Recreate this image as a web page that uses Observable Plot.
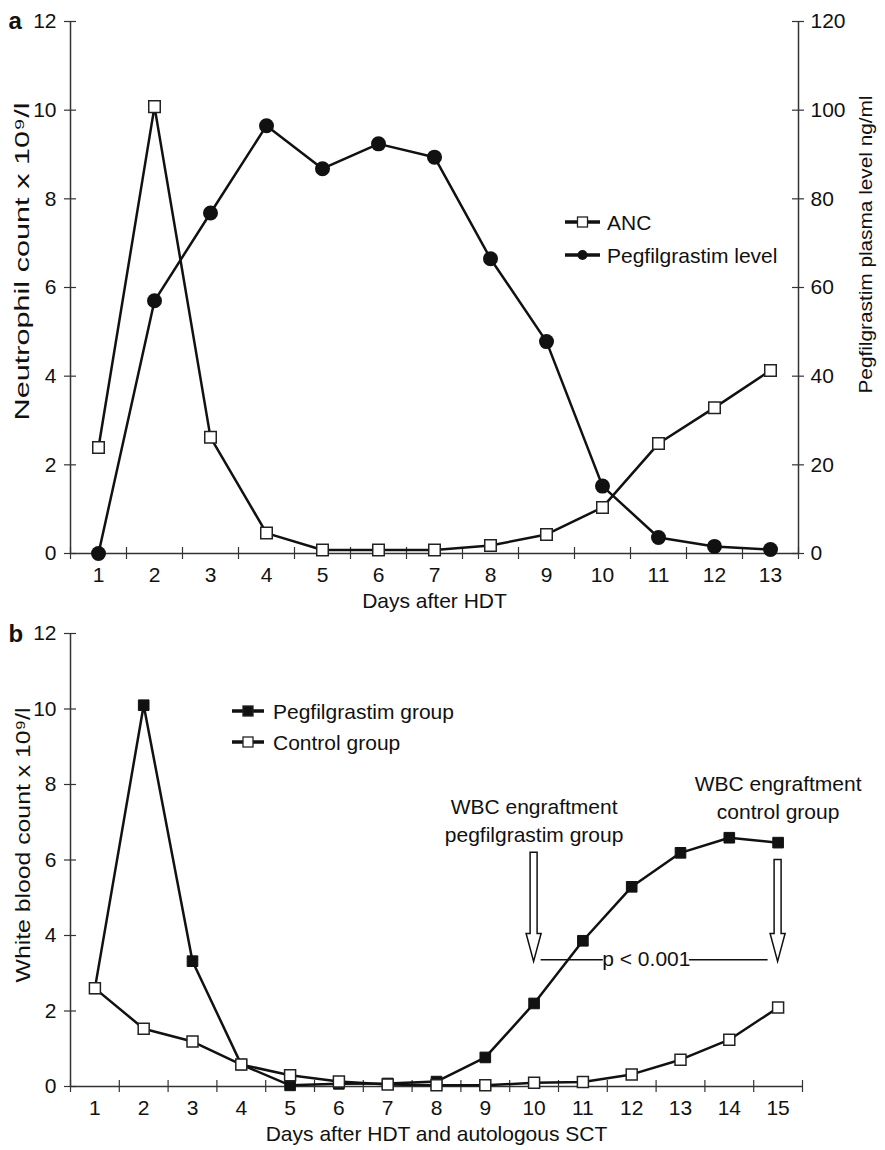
<!DOCTYPE html>
<html><head><meta charset="utf-8">
<script src="https://cdn.jsdelivr.net/npm/d3@7"></script>
<script src="https://cdn.jsdelivr.net/npm/@observablehq/plot@0.6"></script>
<style>
body{margin:0;background:#fff;font-family:"Liberation Sans",Arial,sans-serif;}
#chart{width:885px;}
#chart svg{display:block;overflow:visible;}
</style></head><body><div id="chart"></div>
<script>
// ---------- Panel a data ----------
const daysA = [1,2,3,4,5,6,7,8,9,10,11,12,13];
const ancA = [2.39, 10.08, 2.62, 0.46, 0.08, 0.08, 0.08, 0.18, 0.43, 1.04, 2.48, 3.29, 4.13];
const pegLevelA = [0, 57, 76.8, 96.5, 86.8, 92.4, 89.4, 66.5, 47.8, 15.2, 3.6, 1.6, 0.9];
const leftTicksA = [0,2,4,6,8,10,12];
const rightTicksA = [0,20,40,60,80,100,120];
const legendA = ["ANC", "Pegfilgrastim level"];
const xTitleA = "Days after HDT";
const yTitleA = "Neutrophil count x 10⁹/l";
const y2TitleA = "Pegfilgrastim plasma level ng/ml";
// ---------- Panel b data ----------
const daysB = [1,2,3,4,5,6,7,8,9,10,11,12,13,14,15];
const pegGroupB = [2.6, 10.1, 3.32, 0.58, 0.03, 0.07, 0.08, 0.13, 0.77, 2.2, 3.86, 5.29, 6.19, 6.59, 6.46];
const controlB = [2.6, 1.53, 1.19, 0.58, 0.3, 0.13, 0.05, 0.03, 0.03, 0.1, 0.12, 0.32, 0.71, 1.24, 2.09];
const ticksB = [0,2,4,6,8,10,12];
const legendB = ["Pegfilgrastim group", "Control group"];
const xTitleB = "Days after HDT and autologous SCT";
const yTitleB = "White blood count x 10⁹/l";
// annotations (panel b)
const arrowDays = [10, 15];
const arrowTops = [6.19, 6.0];
const arrowTip = 3.3;
const arrowLabels = ["WBC engraftment\npegfilgrastim group", "WBC engraftment\ncontrol group"];
const arrowLabelY = [7.08, 7.69];
const pLevel = 3.36;
const pText = "p < 0.001";
const pDay = 12.3;

const FONT = "Liberation Sans, Arial, Helvetica, sans-serif";
const AX = "#333";
const FS = 21;

function frameMarks(days, yTicks, yMax, hx, hy, right) {
  const x0 = 0.5, x1 = days.length + 0.5;
  const bounds = d3.range(days.length + 1).map(i => i + 0.5);
  const m = [
    Plot.ruleY([0], {x1: x0, x2: x1, stroke: AX, strokeWidth: 1.5}),
    Plot.ruleX(right ? [x0, x1] : [x0], {y1: 0, y2: yMax, stroke: AX, strokeWidth: 1.5}),
    Plot.ruleX(bounds, {y1: -hy, y2: hy, stroke: AX, strokeWidth: 1.2}),
    Plot.ruleY(yTicks, {x1: x0 - hx, x2: x0 + hx, stroke: AX, strokeWidth: 1.2}),
    Plot.axisY(yTicks, {anchor: "left", tickSize: 0, tickPadding: 14, label: null, fontSize: FS}),
    Plot.axisX(days, {anchor: "bottom", tickSize: 0, tickPadding: 14, label: null, fontSize: FS})
  ];
  if (right) m.push(Plot.ruleY(yTicks, {x1: x1 - hx, x2: x1 + hx, stroke: AX, strokeWidth: 1.2}));
  return m;
}

function legend(svg, items, xa, xb, xt, ys) {
  const g = d3.select(svg).append("g").attr("text-anchor", "start");
  items.forEach((it, i) => {
    const y = ys[i], xc = (xa + xb) / 2;
    g.append("line").attr("x1", xa).attr("x2", xb).attr("y1", y).attr("y2", y)
      .attr("stroke", "#111").attr("stroke-width", 3.5);
    if (it.shape === "circle") {
      g.append("circle").attr("cx", xc).attr("cy", y).attr("r", 5).attr("fill", "#111");
    } else {
      g.append("rect").attr("x", xc - 5).attr("y", y - 5).attr("width", 10).attr("height", 10)
        .attr("fill", it.fill).attr("stroke", "#222").attr("stroke-width", 1.3);
    }
    g.append("text").attr("x", xt).attr("y", y).attr("dy", "0.36em").attr("text-anchor", "start")
      .attr("font-size", FS).attr("font-family", FONT).attr("fill", "#111").text(it.label);
  });
}

function stretch(svg, txt, len) {
  d3.select(svg).selectAll("text").filter(function() { return this.textContent === txt; })
    .attr("textLength", len).attr("lengthAdjust", "spacingAndGlyphs");
}

// ---------- Panel a ----------
{
  const H = 620, mt = 21, mb = 67, ml = 70, mr = 87;
  const yMax = d3.max(leftTicksA);
  const ratio = d3.max(rightTicksA) / yMax;
  const pxY = (H - mt - mb) / yMax, pxX = (885 - ml - mr) / daysA.length;
  const data = daysA.map((d, i) => ({day: d, anc: ancA[i], peg: pegLevelA[i] / ratio}));
  const svg = Plot.plot({
    width: 885, height: H, marginTop: mt, marginBottom: mb, marginLeft: ml, marginRight: mr,
    style: {fontFamily: FONT, fontSize: FS + "px", color: "#111", background: "white", overflow: "visible"},
    x: {domain: [0.5, daysA.length + 0.5], axis: null},
    y: {domain: [0, yMax], axis: null},
    marks: [
      ...frameMarks(daysA, leftTicksA, yMax, 6 / pxX, 6 / pxY, true),
      Plot.axisY(leftTicksA, {anchor: "right", tickSize: 0, tickPadding: 12, label: null, fontSize: FS,
        tickFormat: d => String(d * ratio)}),
      Plot.line(data, {x: "day", y: "peg", stroke: "#111", strokeWidth: 2.5}),
      Plot.line(data, {x: "day", y: "anc", stroke: "#111", strokeWidth: 2.5}),
      Plot.dot(data, {x: "day", y: "peg", r: 7.5, fill: "#111"}),
      Plot.dot(data, {x: "day", y: "anc", symbol: "square", r: 6.5, fill: "white", stroke: "#222", strokeWidth: 1.5}),
      Plot.text([xTitleA], {frameAnchor: "bottom", dy: 54, fontSize: FS}),
      Plot.text([yTitleA], {frameAnchor: "left", textAnchor: "middle", dx: -48, dy: -26, rotate: -90, fontSize: 21}),
      Plot.text([y2TitleA], {frameAnchor: "right", textAnchor: "middle", dx: 67, dy: -43, rotate: -90, fontSize: 19}),
      Plot.text(["a"], {frameAnchor: "top-left", dx: -62, dy: -10, textAnchor: "start", fontWeight: "bold", fontSize: 24})
    ]
  });
  stretch(svg, yTitleA, 318);
  stretch(svg, y2TitleA, 298);
  legend(svg, [{label: legendA[0], shape: "square", fill: "white"}, {label: legendA[1], shape: "circle"}],
    565, 600, 607, [222, 255]);
  document.getElementById("chart").append(svg);
}

// ---------- Panel b ----------
{
  const H = 530, mt = 13, mb = 64, ml = 70, mr = 83;
  const yMax = d3.max(ticksB);
  const pxY = (H - mt - mb) / yMax, pxX = (885 - ml - mr) / daysB.length;
  const data = daysB.map((d, i) => ({day: d, peg: pegGroupB[i], ctl: controlB[i]}));
  const ann = arrowDays.map((d, i) => ({day: d, top: arrowTops[i], label: arrowLabels[i], ly: arrowLabelY[i]}));
  const arrows = (index, scales) => {
    const g = d3.create("svg:g");
    ann.forEach(a => {
      const x = scales.x(a.day), yt = scales.y(a.top), yb = scales.y(arrowTip);
      const sw = 3.5, hw = 7.5, hl = 28;
      g.append("path")
        .attr("d", `M${x - sw},${yt}L${x + sw},${yt}L${x + sw},${yb - hl}L${x + hw},${yb - hl}L${x},${yb}L${x - hw},${yb - hl}L${x - sw},${yb - hl}Z`)
        .attr("fill", "white").attr("stroke", "#111").attr("stroke-width", 1.5);
    });
    return g.node();
  };
  const halfText = 43;
  const svg = Plot.plot({
    width: 885, height: H, marginTop: mt, marginBottom: mb, marginLeft: ml, marginRight: mr,
    style: {fontFamily: FONT, fontSize: FS + "px", color: "#111", background: "white", overflow: "visible"},
    x: {domain: [0.5, daysB.length + 0.5], axis: null},
    y: {domain: [0, yMax], axis: null},
    marks: [
      ...frameMarks(daysB, ticksB, yMax, 6 / pxX, 6 / pxY, false),
      Plot.ruleY([pLevel], {x1: arrowDays[0], x2: pDay, insetLeft: 7, insetRight: halfText, stroke: "#111", strokeWidth: 1.5}),
      Plot.ruleY([pLevel], {x1: pDay, x2: arrowDays[1], insetLeft: halfText, insetRight: 10, stroke: "#111", strokeWidth: 1.5}),
      Plot.text([pText], {x: pDay, y: pLevel, fontSize: FS, fill: "#111"}),
      Plot.line(data, {x: "day", y: "peg", stroke: "#111", strokeWidth: 2.5}),
      Plot.line(data, {x: "day", y: "ctl", stroke: "#111", strokeWidth: 2.5}),
      Plot.dot(data, {x: "day", y: "peg", symbol: "square", r: 6, fill: "#111", stroke: "#111", strokeWidth: 1}),
      Plot.dot(data, {x: "day", y: "ctl", symbol: "square", r: 6.2, fill: "white", stroke: "#222", strokeWidth: 1.5}),
      arrows,
      Plot.text(ann, {x: "day", y: "ly", text: "label", fontSize: FS, lineHeight: 1.3}),
      Plot.text([xTitleB], {frameAnchor: "bottom", dy: 54, fontSize: FS}),
      Plot.text([yTitleB], {frameAnchor: "left", textAnchor: "middle", dx: -47, dy: -15, rotate: -90, fontSize: 21}),
      Plot.text(["b"], {frameAnchor: "top-left", dx: -62, dy: -9, textAnchor: "start", fontWeight: "bold", fontSize: 24})
    ]
  });
  stretch(svg, yTitleB, 275);
  legend(svg, [{label: legendB[0], shape: "square", fill: "#111"}, {label: legendB[1], shape: "square", fill: "white"}],
    232, 264, 273, [96 - 5, 127 - 5]);
  document.getElementById("chart").append(svg);
}
</script></body></html>
